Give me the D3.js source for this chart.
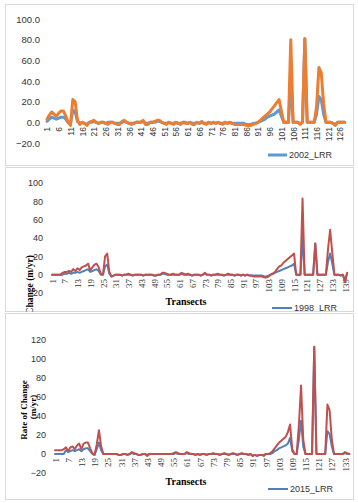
<!DOCTYPE html>
<html><head><meta charset="utf-8">
<script src="https://cdn.jsdelivr.net/npm/d3@7"></script>
<style>body{margin:0;background:#fff}svg{display:block}</style>
</head><body><svg id="c" width="358" height="503"></svg>
<script>
// Panel 1 (2002)
const p1Ticks = d3.range(1, 127, 5);
const p1Y = [-20, 0, 20, 40, 60, 80, 100];
const p1Blue = [1,3,5,4,3,4,5,5,3,0, -2,12,10,1,-1,0,-1,-2,0,0,
 1,0,-1,0,0,-1,0,0,0,-1, -1,-1,0,1,0,-1,-1,-1,0,0,
 0,1,-1,-1,0,0,0,1,1,0, -1,-1,0,-1,-1,0,-1,-1,0,0,
 -1,0,-1,-1,0,-1,0,-1,-1,0, -1,0,-1,0,-1,-1,0,-1,0,-1,
 -1,-1,-1,-1,-1,-2,-2,-2,-1,-1, 0,1,2,3,5,6,7,8,10,12,
 6,0,0,0,40,0,0,0,-1,0, 81,0,0,0,0,8,25,22,8,0,
 0,0,-1,-2,0,0,0,0];
const p1Orange = [3,7,10,8,6,9,11,11,6,0, -3,22,20,2,-2,0,-1,-3,0,1,
 2,0,-1,0,0,-1,-2,0,0,-1, -2,-2,1,2,0,-1,-2,-1,0,0,
 0,2,-2,-2,0,0,1,2,2,0, -1,-2,0,-1,-2,0,-1,-2,0,-1,
 -1,0,-2,-2,0,-1,1,-1,-2,0, -1,0,-1,0,-1,-2,0,-1,0,-1,
 -2,-2,-2,-2,-2,-3,-3,-3,-2,-1, 0,2,4,6,8,10,13,16,19,22,
 11,0,0,0,80,0,0,0,-2,0, 81,0,0,0,0,15,53,48,18,0,
 0,0,-1,-3,0,0,0,0];

// Panel 2 (1998)
const p2Ticks = d3.range(1, 140, 6);
const p2Y = [-20, 0, 20, 40, 60, 80, 100];
const p2Red = [0,0,0,0,0,2,3,3,4,3, 6,4,7,5,8,9,10,12,5,8,
 11,12,8,1,0,20,23,3,-2,-1, 0,0,0,-1,0,0,1,0,-1,0,
 0,0,0,-1,0,0,0,0,-1,-1, 0,0,2,2,1,0,0,1,0,0,
 0,2,1,0,1,0,-1,0,0,0, -1,0,2,0,0,-1,0,0,1,0,
 0,-1,0,1,0,0,-1,0,0,-1, 0,-1,0,-1,-1,-2,-2,-2,-2,-2,
 -3,-3,-2,0,1,3,6,9,10,13, 15,17,19,21,23,0,0,0,83,0,
 0,0,0,0,34,0,0,0,0,0, 28,49,24,0,0,0,-1,0,-8,2];
const p2Blue = [0,0,0,0,0,0,1,1,2,1, 2,2,3,2,3,4,5,6,3,4,
 5,6,4,0,0,9,11,1,-2,-1, 0,0,0,-1,0,0,0,0,-1,0,
 0,0,0,-1,0,0,0,0,-1,-1, 0,0,1,1,0,0,0,0,0,0,
 0,1,0,0,0,0,-1,0,0,0, -1,0,1,0,0,-1,0,0,0,0,
 0,-1,0,0,0,0,-1,0,0,-1, 0,-1,0,-1,-1,-1,-1,-1,-1,-1,
 -2,-2,-1,0,1,2,3,4,5,6, 7,8,9,10,12,0,0,0,41,0,
 0,0,0,0,34,0,0,0,0,0, 14,23,12,0,0,0,-1,0,-6,1];

// Panel 3 (2015)
const p3Ticks = d3.range(1, 134, 6);
const p3Y = [-20, 0, 20, 40, 60, 80, 100, 120];
const p3Red = [4,4,4,4,5,7,3,7,8,5, 9,11,5,11,12,12,6,1,-1,10,
 25,8,0,0,0,0,0,0,0,-1, -1,0,0,-1,0,2,1,0,-1,-1,
 0,0,-2,0,0,0,0,0,0,0, 0,0,0,0,1,2,1,0,0,0,
 2,1,0,0,-1,0,-1,0,0,-1, 0,0,1,0,0,-1,0,1,0,-1,
 0,1,0,-1,0,1,0,0,-1,0, -2,-1,-2,-1,-1,-2,0,0,1,3,
 6,9,12,14,16,18,23,31,5,0, 0,30,72,15,0,0,0,0,113,0,
 0,0,0,0,52,46,15,0,0,0, 0,0,2,1,0];
const p3Blue = [0,0,0,0,0,4,2,3,4,3, 4,5,3,5,6,6,3,0,-1,5,
 12,4,0,0,0,0,0,0,0,-1, -1,0,0,-1,0,1,0,0,-1,-1,
 0,0,-1,0,0,0,0,0,0,0, 0,0,0,0,0,1,0,0,0,0,
 1,0,0,0,-1,0,-1,0,0,-1, 0,0,0,0,0,-1,0,0,0,-1,
 0,0,0,-1,0,0,0,0,-1,0, -2,-1,-2,-1,-1,-1,0,0,0,1,
 3,4,6,7,8,9,11,17,3,0, 0,15,35,8,0,0,0,0,113,0,
 0,0,0,0,24,21,8,0,0,0, 0,0,1,0,0];

const svg = d3.select("#c");
const SANS = "Liberation Sans, Arial, sans-serif";
const SERIF = "Liberation Serif, Times New Roman, serif";

function panel(o) {
  svg.append("rect").attr("x", o.box[0]).attr("y", o.box[1]).attr("width", o.box[2]).attr("height", o.box[3])
    .attr("fill", "#fff").attr("stroke", "#d9d9d9").attr("stroke-width", 1);
  const clipId = "clip" + o.id;
  svg.append("clipPath").attr("id", clipId).append("rect")
    .attr("x", o.box[0]).attr("y", o.box[1]).attr("width", o.box[2]).attr("height", o.box[3]);
  const g = svg.append("g").attr("clip-path", `url(#${clipId})`);
  const x = d3.scaleLinear().domain(o.xDom).range(o.xRange);
  const y = d3.scaleLinear().domain(o.yDom).range(o.yRange);

  const ya = g.append("g").attr("transform", `translate(${o.yLabelX},0)`)
    .call(d3.axisLeft(y).tickValues(o.yTicks).tickSize(0).tickPadding(0).tickFormat(o.yFmt));
  ya.select(".domain").remove();
  ya.selectAll("text").attr("font-family", SANS).attr("font-size", o.yFont).attr("fill", o.textColor);

  const xa = g.append("g").attr("transform", `translate(0,${o.xLabelY})`)
    .call(d3.axisBottom(x).tickValues(o.xTicks).tickSize(0).tickFormat(d3.format("d")));
  xa.select(".domain").remove();
  xa.selectAll("text").attr("y", 0).attr("x", 0).attr("dy", "0.35em")
    .attr("transform", "rotate(-90)").attr("text-anchor", "end")
    .attr("font-family", o.xFontFam).attr("font-size", o.xFont).attr("fill", o.textColor);

  const line = d3.line().x((d, i) => x(i + 1)).y(d => y(d));
  o.series.forEach(s => {
    g.append("path").datum(s.values).attr("d", line).attr("fill", "none")
      .attr("stroke", s.color).attr("stroke-width", o.lw)
      .attr("stroke-linejoin", "round").attr("stroke-linecap", "round");
  });

  if (o.xTitle) {
    g.append("text").attr("x", o.xTitle[0]).attr("y", o.xTitle[1]).attr("text-anchor", "middle")
      .attr("font-family", SERIF).attr("font-weight", "bold").attr("font-size", 10).attr("fill", "#000")
      .text("Transects");
  }
  (o.yTitles || []).forEach(t => {
    g.append("text").attr("transform", `translate(${t.x},${t.y}) rotate(-90)`)
      .attr("text-anchor", t.anchor).attr("font-family", SERIF).attr("font-weight", "bold")
      .attr("font-size", t.size).attr("fill", "#000").text(t.text);
  });

  const L = o.legend;
  g.append("line").attr("x1", L.x1).attr("x2", L.x2).attr("y1", L.y).attr("y2", L.y)
    .attr("stroke", L.color).attr("stroke-width", o.lw);
  g.append("text").attr("x", L.x2 + 2).attr("y", L.y).attr("dy", "0.35em")
    .attr("font-family", SANS).attr("font-size", 9).attr("fill", o.textColor).text(L.text);
}

panel({
  id: 1, box: [5.5, 4.5, 348, 161],
  xDom: [1, 126], xRange: [47, 340], yDom: [-20, 100], yRange: [143, 19],
  yTicks: p1Y, yFmt: d3.format(".1f"), yLabelX: 40, yFont: 9.5, textColor: "#333",
  xTicks: p1Ticks, xLabelY: 127, xFont: 8.5, xFontFam: SANS, lw: 3,
  series: [{values: p1Blue, color: "#5B9BD5"}, {values: p1Orange, color: "#ED7D31"}],
  legend: {x1: 268, x2: 287, y: 155, color: "#5B9BD5", text: "2002_LRR"}
});

panel({
  id: 2, box: [5.5, 167.5, 348, 144],
  xDom: [1, 139], xRange: [52, 345], yDom: [-20, 100], yRange: [293, 183],
  yTicks: p2Y, yFmt: d3.format("d"), yLabelX: 43, yFont: 9, textColor: "#333",
  xTicks: p2Ticks, xLabelY: 279, xFont: 9, xFontFam: SERIF, lw: 2,
  series: [{values: p2Blue, color: "#4F81BD"}, {values: p2Red, color: "#C0504D"}],
  xTitle: [186, 305],
  yTitles: [{x: 33, y: 255, anchor: "end", size: 9.5, text: "Rate of Change (m/yr)"}],
  legend: {x1: 272, x2: 292, y: 308, color: "#4F81BD", text: "1998_LRR"}
});

panel({
  id: 3, box: [5.5, 313.5, 348, 186],
  xDom: [1, 133], xRange: [55, 345], yDom: [-20, 120], yRange: [473, 340],
  yTicks: p3Y, yFmt: d3.format("d"), yLabelX: 46, yFont: 9, textColor: "#333",
  xTicks: p3Ticks, xLabelY: 458, xFont: 9, xFontFam: SERIF, lw: 2,
  series: [{values: p3Blue, color: "#4F81BD"}, {values: p3Red, color: "#C0504D"}],
  xTitle: [186, 485],
  yTitles: [{x: 27, y: 410, anchor: "middle", size: 9, text: "Rate of Change"},
            {x: 36, y: 407, anchor: "middle", size: 9, text: "(m/yr)"}],
  legend: {x1: 268, x2: 288, y: 489, color: "#4F81BD", text: "2015_LRR"}
});
</script></body></html>
